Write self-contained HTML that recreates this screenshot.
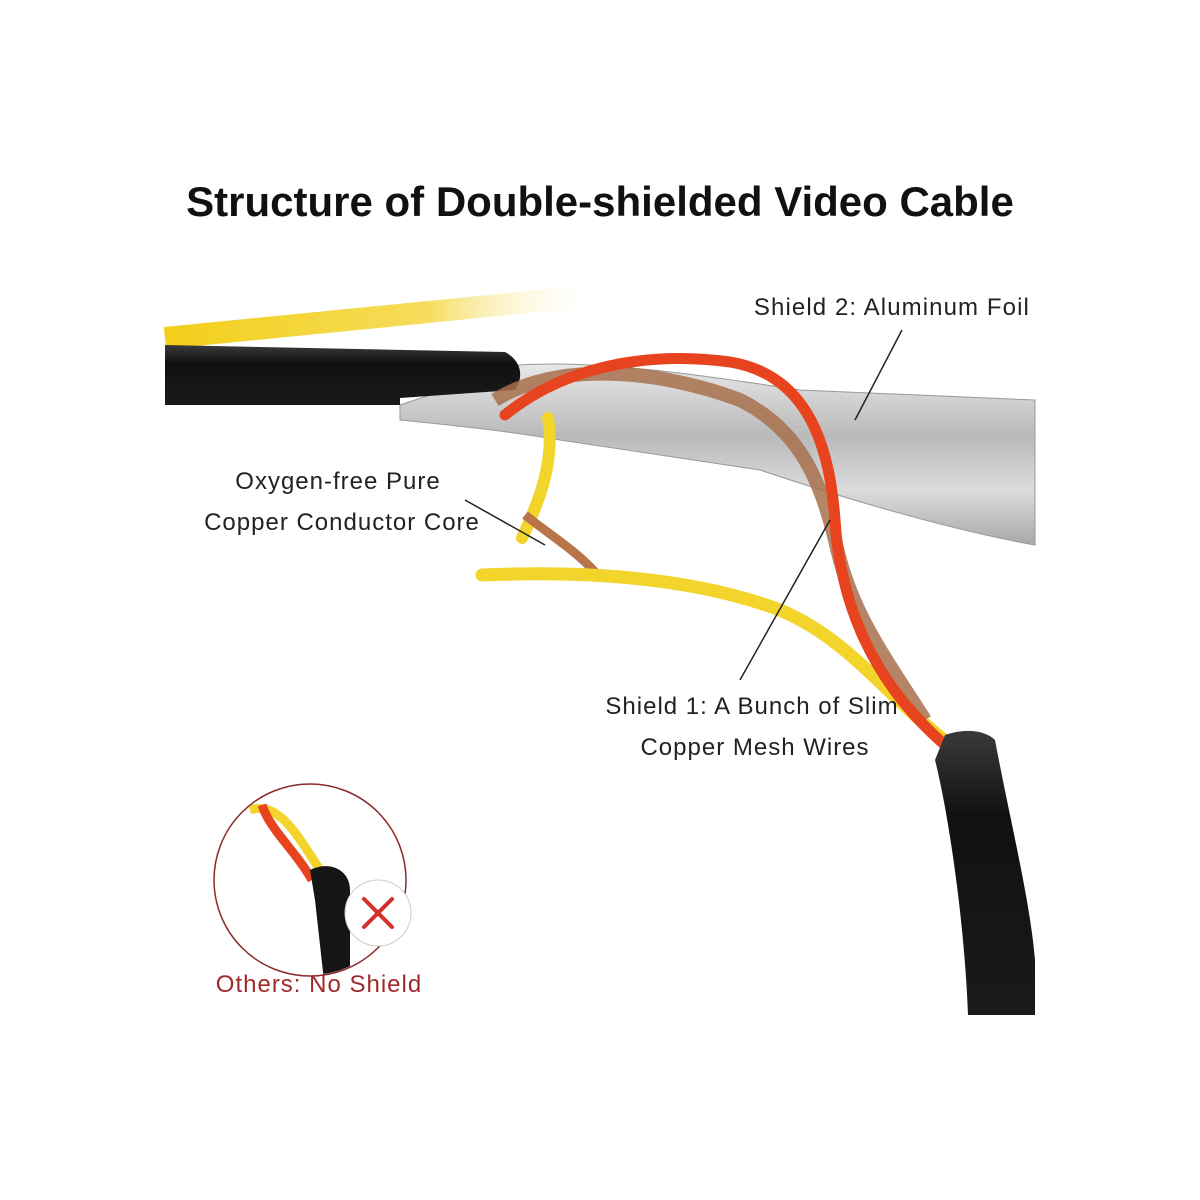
<!DOCTYPE html>
<html><head><meta charset="utf-8"><style>
html,body{margin:0;padding:0;background:#fff;}
svg{display:block}
text{font-family:"Liberation Sans",sans-serif;}
</style></head><body>
<svg width="1200" height="1200" viewBox="0 0 1200 1200" xmlns="http://www.w3.org/2000/svg">
<defs>
<linearGradient id="yf" x1="0" x2="1"><stop offset="0" stop-color="#f2cf1a"/><stop offset="0.6" stop-color="#f6dc5a"/><stop offset="1" stop-color="#fff" stop-opacity="0"/></linearGradient>
<linearGradient id="foil" x1="0" y1="0" x2="0" y2="1"><stop offset="0" stop-color="#e8e8e8"/><stop offset="0.4" stop-color="#b9b9b9"/><stop offset="0.7" stop-color="#dcdcdc"/><stop offset="1" stop-color="#a8a8a8"/></linearGradient>
<linearGradient id="blk" x1="0" y1="0" x2="0" y2="1"><stop offset="0" stop-color="#3a3a3a"/><stop offset="0.3" stop-color="#111"/><stop offset="1" stop-color="#1a1a1a"/></linearGradient>
<clipPath id="cc"><circle cx="310" cy="880" r="95"/></clipPath>
</defs>
<text x="600" y="216" text-anchor="middle" font-size="42" font-weight="bold" fill="#111">Structure of Double-shielded Video Cable</text>

<path d="M165 338 C300 325 450 310 600 295" stroke="url(#yf)" stroke-width="22" fill="none"/>
<path d="M400 405 L520 365 C600 360 700 375 800 390 L1035 400 L1035 545 C950 530 850 500 760 470 L560 440 C500 430 450 425 400 420 Z" fill="url(#foil)" stroke="#999" stroke-width="1"/>
<path d="M165 345 L505 352 C520 360 525 375 515 390 L400 398 L400 405 L165 405 Z" fill="url(#blk)"/>
<path d="M548 418 C555 460 540 500 522 538" stroke="#f2d42a" stroke-width="12" fill="none" stroke-linecap="round"/>
<path d="M525 515 C550 535 575 550 595 572" stroke="#b8754a" stroke-width="9" fill="none"/>
<path d="M482 575 C600 570 700 580 780 610 C850 640 880 690 950 745" stroke="#f2d42a" stroke-width="13" fill="none" stroke-linecap="round"/>
<path d="M495 400 C560 360 660 370 740 400 C800 430 820 480 835 540 C850 610 880 650 925 720" stroke="#a8704c" stroke-width="14" fill="none" opacity="0.85"/>
<path d="M505 415 C560 370 640 350 730 362 C810 375 830 450 835 520 C840 600 870 680 945 745" stroke="#e8431f" stroke-width="11" fill="none" stroke-linecap="round"/>
<path d="M945 735 C965 728 985 730 995 740 C1010 820 1030 900 1035 960 L1035 1015 L968 1015 C965 930 950 820 935 760 Z" fill="url(#blk)"/>

<text x="1030" y="315" text-anchor="end" font-size="24" letter-spacing="1.1" fill="#222">Shield 2: Aluminum Foil</text>
<line x1="902" y1="330" x2="855" y2="420" stroke="#222" stroke-width="1.5"/>
<text x="338" y="489" text-anchor="middle" font-size="24" letter-spacing="1" fill="#222">Oxygen-free Pure</text>
<text x="342" y="530" text-anchor="middle" font-size="24" letter-spacing="1" fill="#222">Copper Conductor Core</text>
<line x1="465" y1="500" x2="545" y2="545" stroke="#222" stroke-width="1.5"/>
<text x="752" y="714" text-anchor="middle" font-size="24" letter-spacing="1" fill="#222">Shield 1: A Bunch of Slim</text>
<text x="755" y="755" text-anchor="middle" font-size="24" letter-spacing="1" fill="#222">Copper Mesh Wires</text>
<line x1="740" y1="680" x2="830" y2="520" stroke="#222" stroke-width="1.5"/>

<circle cx="310" cy="880" r="96" fill="#fff" stroke="#8a2a2a" stroke-width="1.5"/>
<g clip-path="url(#cc)">
<path d="M250 810 C280 800 300 840 320 870 C330 885 335 880 340 880" stroke="#f2d42a" stroke-width="9" fill="none"/>
<path d="M262 805 C270 830 295 850 312 880" stroke="#e8431f" stroke-width="9" fill="none"/>
<path d="M310 870 C330 860 350 870 350 890 L350 990 L325 990 L315 900 Z" fill="#151515"/>
</g>
<circle cx="378" cy="913" r="33" fill="#fff" stroke="#ccc" stroke-width="1"/>
<path d="M364 899 L392 927 M392 899 L364 927" stroke="#d2312a" stroke-width="4" stroke-linecap="round"/>
<text x="319" y="992" text-anchor="middle" font-size="24" letter-spacing="1" fill="#a02a2a">Others: No Shield</text>
</svg>
</body></html>
